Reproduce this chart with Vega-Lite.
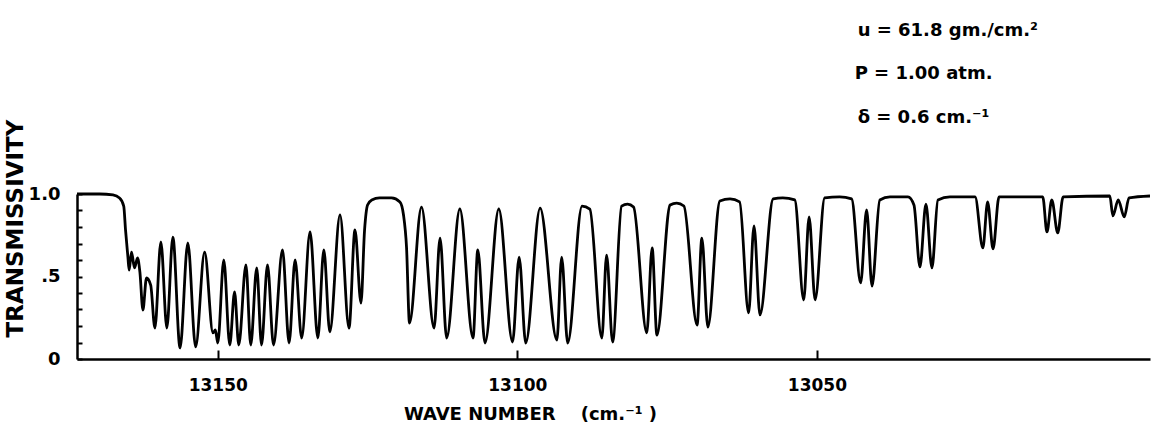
{
  "$schema": "https://vega.github.io/schema/vega-lite/v6.json",
  "width": 1073,
  "height": 165,
  "autosize": {"type": "none"},
  "padding": {"left": 77, "top": 194, "right": 2, "bottom": 74},
  "background": "white",
  "config": {"view": {"stroke": null}, "font": "DejaVu Sans"},
  "datasets": {
    "spectrum": [
      {"wavenumber": 13173.5, "transmissivity": 1.0},
      {"wavenumber": 13169.7, "transmissivity": 1.0},
      {"wavenumber": 13167.5, "transmissivity": 0.994},
      {"wavenumber": 13166.4, "transmissivity": 0.976},
      {"wavenumber": 13165.7, "transmissivity": 0.927},
      {"wavenumber": 13165.4, "transmissivity": 0.782},
      {"wavenumber": 13165.0, "transmissivity": 0.618},
      {"wavenumber": 13164.8, "transmissivity": 0.539},
      {"wavenumber": 13164.4, "transmissivity": 0.648},
      {"wavenumber": 13163.9, "transmissivity": 0.552},
      {"wavenumber": 13163.4, "transmissivity": 0.612},
      {"wavenumber": 13163.0, "transmissivity": 0.527},
      {"wavenumber": 13162.5, "transmissivity": 0.297},
      {"wavenumber": 13161.9, "transmissivity": 0.491},
      {"wavenumber": 13161.2, "transmissivity": 0.448},
      {"wavenumber": 13160.5, "transmissivity": 0.188},
      {"wavenumber": 13159.5, "transmissivity": 0.709},
      {"wavenumber": 13158.5, "transmissivity": 0.188},
      {"wavenumber": 13157.5, "transmissivity": 0.739},
      {"wavenumber": 13156.3, "transmissivity": 0.067},
      {"wavenumber": 13155.0, "transmissivity": 0.703},
      {"wavenumber": 13153.7, "transmissivity": 0.073},
      {"wavenumber": 13152.2, "transmissivity": 0.648},
      {"wavenumber": 13150.8, "transmissivity": 0.158},
      {"wavenumber": 13150.4, "transmissivity": 0.176},
      {"wavenumber": 13150.0, "transmissivity": 0.097},
      {"wavenumber": 13149.0, "transmissivity": 0.600},
      {"wavenumber": 13148.0, "transmissivity": 0.085},
      {"wavenumber": 13147.2, "transmissivity": 0.406},
      {"wavenumber": 13146.5, "transmissivity": 0.085},
      {"wavenumber": 13145.3, "transmissivity": 0.570},
      {"wavenumber": 13144.5, "transmissivity": 0.085},
      {"wavenumber": 13143.5, "transmissivity": 0.552},
      {"wavenumber": 13142.7, "transmissivity": 0.085},
      {"wavenumber": 13141.7, "transmissivity": 0.570},
      {"wavenumber": 13140.7, "transmissivity": 0.085},
      {"wavenumber": 13139.2, "transmissivity": 0.661},
      {"wavenumber": 13138.1, "transmissivity": 0.097},
      {"wavenumber": 13137.1, "transmissivity": 0.600},
      {"wavenumber": 13136.0, "transmissivity": 0.127},
      {"wavenumber": 13134.6, "transmissivity": 0.770},
      {"wavenumber": 13133.3, "transmissivity": 0.127},
      {"wavenumber": 13132.3, "transmissivity": 0.661},
      {"wavenumber": 13131.3, "transmissivity": 0.164},
      {"wavenumber": 13129.6, "transmissivity": 0.873},
      {"wavenumber": 13128.1, "transmissivity": 0.188},
      {"wavenumber": 13127.1, "transmissivity": 0.782},
      {"wavenumber": 13126.1, "transmissivity": 0.339},
      {"wavenumber": 13125.5, "transmissivity": 0.782},
      {"wavenumber": 13125.0, "transmissivity": 0.933},
      {"wavenumber": 13124.3, "transmissivity": 0.964},
      {"wavenumber": 13123.0, "transmissivity": 0.976},
      {"wavenumber": 13121.0, "transmissivity": 0.976},
      {"wavenumber": 13119.6, "transmissivity": 0.952},
      {"wavenumber": 13119.0, "transmissivity": 0.873},
      {"wavenumber": 13118.5, "transmissivity": 0.679},
      {"wavenumber": 13118.0, "transmissivity": 0.218},
      {"wavenumber": 13116.0, "transmissivity": 0.921},
      {"wavenumber": 13113.9, "transmissivity": 0.188},
      {"wavenumber": 13112.9, "transmissivity": 0.733},
      {"wavenumber": 13111.8, "transmissivity": 0.127},
      {"wavenumber": 13109.6, "transmissivity": 0.909},
      {"wavenumber": 13107.4, "transmissivity": 0.127},
      {"wavenumber": 13106.6, "transmissivity": 0.661},
      {"wavenumber": 13105.4, "transmissivity": 0.097},
      {"wavenumber": 13103.1, "transmissivity": 0.909},
      {"wavenumber": 13100.8, "transmissivity": 0.103},
      {"wavenumber": 13099.7, "transmissivity": 0.618},
      {"wavenumber": 13098.6, "transmissivity": 0.097},
      {"wavenumber": 13096.2, "transmissivity": 0.915},
      {"wavenumber": 13093.4, "transmissivity": 0.115},
      {"wavenumber": 13092.6, "transmissivity": 0.618},
      {"wavenumber": 13091.6, "transmissivity": 0.097},
      {"wavenumber": 13089.2, "transmissivity": 0.927},
      {"wavenumber": 13087.9, "transmissivity": 0.909},
      {"wavenumber": 13085.9, "transmissivity": 0.127},
      {"wavenumber": 13085.1, "transmissivity": 0.630},
      {"wavenumber": 13084.1, "transmissivity": 0.103},
      {"wavenumber": 13082.6, "transmissivity": 0.927},
      {"wavenumber": 13081.6, "transmissivity": 0.939},
      {"wavenumber": 13080.6, "transmissivity": 0.921},
      {"wavenumber": 13078.4, "transmissivity": 0.158},
      {"wavenumber": 13077.5, "transmissivity": 0.673},
      {"wavenumber": 13076.7, "transmissivity": 0.145},
      {"wavenumber": 13074.5, "transmissivity": 0.933},
      {"wavenumber": 13073.4, "transmissivity": 0.945},
      {"wavenumber": 13072.2, "transmissivity": 0.927},
      {"wavenumber": 13070.0, "transmissivity": 0.206},
      {"wavenumber": 13069.2, "transmissivity": 0.733},
      {"wavenumber": 13068.2, "transmissivity": 0.194},
      {"wavenumber": 13066.2, "transmissivity": 0.958},
      {"wavenumber": 13064.5, "transmissivity": 0.970},
      {"wavenumber": 13062.9, "transmissivity": 0.952},
      {"wavenumber": 13061.4, "transmissivity": 0.279},
      {"wavenumber": 13060.5, "transmissivity": 0.806},
      {"wavenumber": 13059.5, "transmissivity": 0.267},
      {"wavenumber": 13057.3, "transmissivity": 0.970},
      {"wavenumber": 13055.7, "transmissivity": 0.976},
      {"wavenumber": 13053.7, "transmissivity": 0.964},
      {"wavenumber": 13052.2, "transmissivity": 0.358},
      {"wavenumber": 13051.3, "transmissivity": 0.861},
      {"wavenumber": 13050.3, "transmissivity": 0.358},
      {"wavenumber": 13048.7, "transmissivity": 0.976},
      {"wavenumber": 13046.2, "transmissivity": 0.982},
      {"wavenumber": 13044.2, "transmissivity": 0.970},
      {"wavenumber": 13042.7, "transmissivity": 0.461},
      {"wavenumber": 13041.7, "transmissivity": 0.903},
      {"wavenumber": 13040.8, "transmissivity": 0.442},
      {"wavenumber": 13039.5, "transmissivity": 0.964},
      {"wavenumber": 13037.8, "transmissivity": 0.982},
      {"wavenumber": 13034.8, "transmissivity": 0.982},
      {"wavenumber": 13033.8, "transmissivity": 0.933},
      {"wavenumber": 13032.8, "transmissivity": 0.558},
      {"wavenumber": 13031.8, "transmissivity": 0.939},
      {"wavenumber": 13030.8, "transmissivity": 0.552},
      {"wavenumber": 13029.8, "transmissivity": 0.964},
      {"wavenumber": 13027.8, "transmissivity": 0.982},
      {"wavenumber": 13023.6, "transmissivity": 0.982},
      {"wavenumber": 13022.3, "transmissivity": 0.673},
      {"wavenumber": 13021.5, "transmissivity": 0.952},
      {"wavenumber": 13020.6, "transmissivity": 0.667},
      {"wavenumber": 13019.6, "transmissivity": 0.982},
      {"wavenumber": 13012.3, "transmissivity": 0.982},
      {"wavenumber": 13011.6, "transmissivity": 0.770},
      {"wavenumber": 13010.8, "transmissivity": 0.964},
      {"wavenumber": 13009.8, "transmissivity": 0.764},
      {"wavenumber": 13008.9, "transmissivity": 0.982},
      {"wavenumber": 13001.1, "transmissivity": 0.988},
      {"wavenumber": 13000.6, "transmissivity": 0.867},
      {"wavenumber": 12999.7, "transmissivity": 0.964},
      {"wavenumber": 12998.7, "transmissivity": 0.861},
      {"wavenumber": 12997.9, "transmissivity": 0.976},
      {"wavenumber": 12994.4, "transmissivity": 0.988}
    ],
    "notes": [
      {"label": "u = 61.8 gm./cm.²", "wavenumber": 13043.2, "transmissivity": 1.958},
      {"label": "P = 1.00 atm.", "wavenumber": 13043.7, "transmissivity": 1.697},
      {"label": "δ = 0.6 cm.⁻¹", "wavenumber": 13043.2, "transmissivity": 1.43}
    ]
  },
  "encoding": {
    "x": {
      "field": "wavenumber",
      "type": "quantitative",
      "scale": {"domain": [12994.4, 13173.5], "reverse": true, "nice": false, "zero": false},
      "axis": {
        "values": [13150, 13100, 13050],
        "format": "d",
        "grid": false,
        "domainColor": "black",
        "domainWidth": 2.5,
        "tickColor": "black",
        "tickWidth": 2,
        "tickSize": -9,
        "labelPadding": 27,
        "labelFlush": false,
        "labelOverlap": false,
        "labelFontSize": 17,
        "labelFontWeight": "bold",
        "labelColor": "black",
        "title": "WAVE NUMBER\u00a0\u00a0\u00a0\u00a0(cm.⁻¹ )",
        "titleFontSize": 18,
        "titleFontWeight": "bold",
        "titleColor": "black",
        "titleX": 453,
        "titleY": 60,
        "titleAlign": "center",
        "titleBaseline": "alphabetic"
      }
    },
    "y": {
      "field": "transmissivity",
      "type": "quantitative",
      "scale": {"domain": [0, 1], "nice": false, "zero": false},
      "axis": {
        "values": [0, 0.1, 0.2, 0.3, 0.4, 0.5, 0.6, 0.7, 0.8, 0.9, 1.0],
        "labelExpr": "datum.value > 0.99 ? '1.0' : (datum.value > 0.49 && datum.value < 0.51) ? '.5' : datum.value < 0.01 ? '0' : ''",
        "grid": false,
        "domainColor": "black",
        "domainWidth": 2.5,
        "tickColor": "black",
        "tickWidth": 2,
        "tickSize": -5,
        "labelPadding": 22,
        "labelFlush": false,
        "labelOverlap": false,
        "labelFontSize": 18,
        "labelFontWeight": "bold",
        "labelColor": "black",
        "title": "TRANSMISSIVITY",
        "titleFontSize": 23,
        "titleFontWeight": "bold",
        "titleColor": "black",
        "titleAngle": -90,
        "titleX": -62,
        "titleY": 34,
        "titleAlign": "center",
        "titleBaseline": "middle"
      }
    }
  },
  "layer": [
    {
      "data": {"name": "spectrum"},
      "mark": {"type": "line", "interpolate": "monotone", "color": "black", "strokeWidth": 2.8, "clip": false}
    },
    {
      "data": {"name": "notes"},
      "mark": {"type": "text", "align": "left", "baseline": "alphabetic", "fontWeight": "bold", "fontSize": 18, "color": "black", "clip": false},
      "encoding": {
        "text": {"field": "label"}
      }
    }
  ]
}
